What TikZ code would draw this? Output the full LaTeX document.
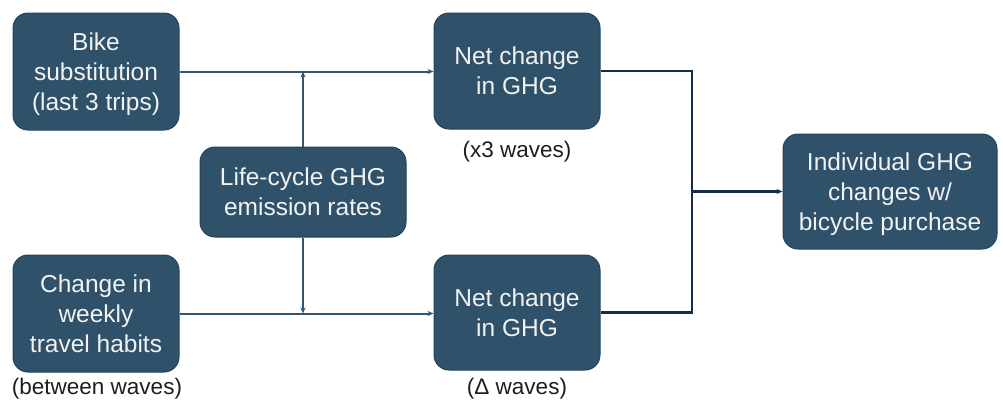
\documentclass[tikz,border=0pt]{standalone}
\usepackage{fontspec}
\setmainfont{Liberation Sans}
\usetikzlibrary{arrows.meta}
\definecolor{boxfill}{HTML}{2F5169}
\definecolor{boxedge}{HTML}{26435A}
\definecolor{lineA}{HTML}{355670}
\definecolor{lineB}{HTML}{142E4C}
\definecolor{labtxt}{HTML}{1E1E1E}
\tikzset{
  box/.style={draw=boxedge, line width=1pt, fill=boxfill, rounded corners=15pt,
    text=white!95!black, align=center, inner sep=0pt, text depth=0pt,
    font=\fontsize{24.5}{30}\selectfont},
  lab/.style={text=labtxt, inner sep=0pt, font=\fontsize{22.5}{27}\selectfont},
  linkA/.style={draw=lineA, line width=2pt, -{Stealth[length=6pt,width=5pt]}},
  linkB/.style={draw=lineB, line width=2.4pt},
}
\begin{document}
\begin{tikzpicture}[x=1pt,y=-1pt]
\useasboundingbox (0,0) rectangle (1003,400);
\node[box, minimum width=166pt, minimum height=117pt] (b1) at (96,71.5) {Bike\\substitution\\(last 3 trips)};
\node[box, minimum width=166pt, minimum height=117pt] (b2) at (96,313.5) {Change in\\weekly\\travel habits};
\node[box, minimum width=206pt, minimum height=90pt] (lc) at (303,192) {Life-cycle GHG\\emission rates};
\node[box, minimum width=166pt, minimum height=116pt] (n1) at (517,71) {Net change\\in GHG};
\node[box, minimum width=166pt, minimum height=115pt] (n2) at (517,312.5) {Net change\\in GHG};
\node[box, minimum width=214pt, minimum height=115pt] (ind) at (890,191.5) {Individual GHG\\changes w/\\bicycle purchase};
\node[lab] (l1) at (97,389) {(between waves)};
\node[lab] (l2) at (517,152) {(x3 waves)};
\node[lab] (l3) at (517,389) {(Δ waves)};
\coordinate (j) at (692,191.5);
\draw[linkA] (b1.east) -- (n1.west |- b1.east);
\draw[linkA] (b2.east) -- (n2.west |- b2.east);
\draw[linkA] (lc.north) -- (lc.north |- b1.east);
\draw[linkA] (lc.south) -- (lc.south |- b2.east);
\draw[linkB] (n1.east) -| (j) |- (n2.east);
\draw[linkB, -{Stealth[length=6pt,width=5pt]}] (j) -- (ind.west);
\end{tikzpicture}
\end{document}
